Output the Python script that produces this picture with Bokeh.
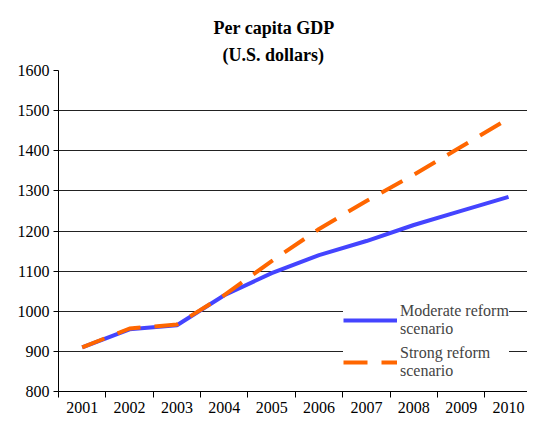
from bokeh.plotting import figure
from bokeh.models import FixedTicker, Legend, LegendItem, Range1d, ColumnDataSource, Title
from bokeh.embed import file_html
from bokeh.resources import INLINE

years = ["2001", "2002", "2003", "2004", "2005", "2006", "2007", "2008", "2009", "2010"]
moderate = [910, 955, 965, 1040, 1095, 1140, 1175, 1215, 1250, 1285]
strong = [910, 957, 967, 1040, 1125, 1205, 1275, 1340, 1410, 1480]
y_ticks = [800, 900, 1000, 1100, 1200, 1300, 1400, 1500, 1600]
title_lines = ["(U.S. dollars)", "Per capita GDP"]

xs = list(range(1, len(years) + 1))
src = ColumnDataSource(dict(x=xs, moderate=moderate, strong=strong))

FONT = "Liberation Serif"

p = figure(width=527, height=415, output_backend="svg", toolbar_location=None,
           x_range=Range1d(0.5, 10.4), y_range=Range1d(800, 1600),
           min_border_left=58, min_border_right=0, min_border_top=70, min_border_bottom=0,
           title=None)
title_offsets = [164, 155]
for i, t in enumerate(title_lines):
    p.add_layout(Title(text=t, text_font=FONT, text_font_size="18px", text_font_style="bold",
                       align="left", offset=title_offsets[i], standoff=11 if i == 0 else 0,
                       text_color="black"), "above")

p.outline_line_color = None
p.background_fill_color = "white"
p.border_fill_color = "white"

# x axis
p.xaxis.ticker = FixedTicker(ticks=xs, minor_ticks=[i + 0.5 for i in range(0, 10)])
p.xaxis.major_label_overrides = {x: y for x, y in zip(xs, years)}
p.xaxis.major_tick_line_color = None
p.xaxis.minor_tick_line_color = "black"
p.xaxis.minor_tick_out = 6
p.xaxis.minor_tick_in = 0
p.xaxis.axis_line_color = "black"
p.xaxis.major_label_text_font = FONT
p.xaxis.major_label_text_font_size = "16px"
p.xaxis.major_label_text_color = "black"
p.xaxis.major_label_standoff = 4

# y axis
p.yaxis.ticker = FixedTicker(ticks=y_ticks)
p.yaxis.minor_tick_line_color = None
p.yaxis.major_tick_out = 5
p.yaxis.major_tick_in = 0
p.yaxis.axis_line_color = "black"
p.yaxis.major_label_text_font = FONT
p.yaxis.major_label_text_font_size = "16px"
p.yaxis.major_label_text_color = "black"
p.yaxis.major_label_standoff = 4

p.xgrid.grid_line_color = None
p.ygrid.ticker = FixedTicker(ticks=y_ticks)
p.ygrid.grid_line_color = "#222222"
p.ygrid.grid_line_width = 1

r1 = p.line("x", "moderate", source=src, line_color="#4444FF", line_width=4)
r2 = p.line("x", "strong", source=src, line_color="#FF6600", line_width=4, line_dash="24 14")

legend = Legend(items=[LegendItem(label="Moderate reform\nscenario", renderers=[r1]),
                       LegendItem(label="Strong reform\nscenario", renderers=[r2])],
                location=(285, 11), border_line_color=None, background_fill_alpha=1,
                background_fill_color="white", glyph_width=54, glyph_height=20,
                label_text_font=FONT, label_text_font_size="16px", spacing=6,
                padding=4, margin=0, label_standoff=3, label_text_line_height=1.15)
p.add_layout(legend, "center")

open("out.html", "w").write(file_html(p, INLINE))
